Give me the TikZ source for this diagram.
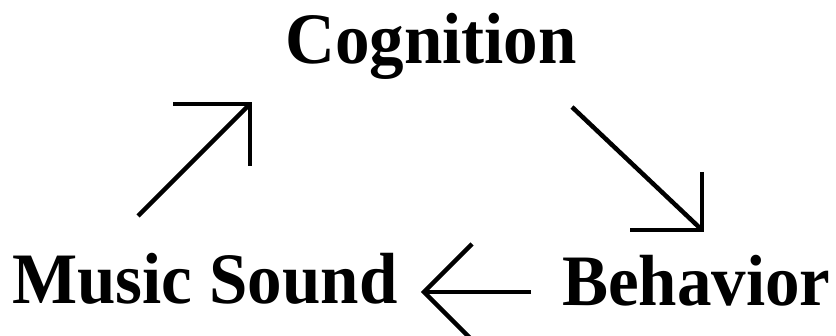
\documentclass[tikz,border=0pt]{standalone}
\usepackage{fontspec}
\setmainfont{Liberation Serif}
\begin{document}
\begin{tikzpicture}[x=1pt,y=-1pt,
  lbl/.style={anchor=base west,inner sep=0pt,font=\fontsize{69}{80}\selectfont\bfseries,yscale=1.05},
  arr/.style={line width=4.5pt,line join=miter}]
\useasboundingbox (0,0) rectangle (836,336);
\clip (0,0) rectangle (836,336);
\node[lbl] (cog) at (285,64) {Cognition};
\node[lbl] (mus) at (12,304) {Music Sound};
\node[lbl] (beh) at (562,306) {Behavior};
% arrow 1: Music Sound -> Cognition
\coordinate (a1s) at (138,216);
\coordinate (a1t) at (250,104);
\coordinate (a1l) at (173,104);
\coordinate (a1r) at (250,166);
\draw[arr] (a1s) -- (a1t);
\draw[arr] (a1l) -- (a1t) -- (a1r);
% arrow 2: Cognition -> Behavior
\coordinate (a2s) at (572,107);
\coordinate (a2t) at (702,230);
\coordinate (a2l) at (702,172);
\coordinate (a2r) at (630,230);
\draw[arr] (a2s) -- (a2t);
\draw[arr] (a2l) -- (a2t) -- (a2r);
% arrow 3: Behavior -> Music Sound
\coordinate (a3s) at (531,292);
\coordinate (a3t) at (424,292);
\coordinate (a3l) at (472,244);
\coordinate (a3r) at (472,340);
\draw[arr] (a3s) -- (a3t);
\draw[arr] (a3l) -- (a3t) -- (a3r);
\end{tikzpicture}
\end{document}
